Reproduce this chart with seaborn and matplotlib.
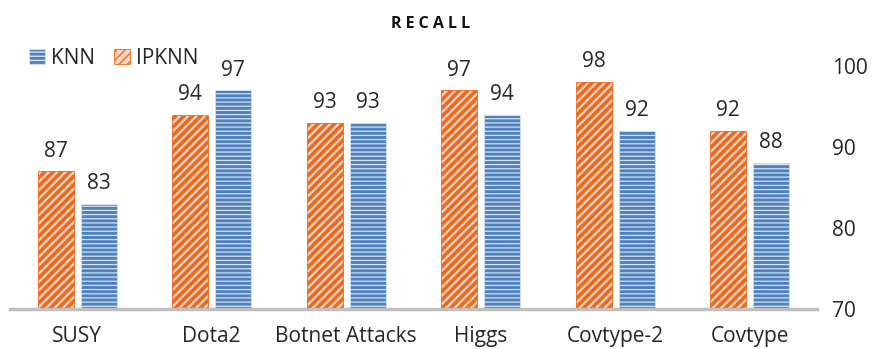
import matplotlib
matplotlib.use("Agg")
import matplotlib.pyplot as plt
import seaborn as sns
import pandas as pd
from matplotlib.patches import Patch

categories = ["SUSY", "Dota2", "Botnet Attacks", "Higgs", "Covtype-2", "Covtype"]
ipknn = [87, 94, 93, 97, 98, 92]
knn = [83, 97, 93, 94, 92, 88]
yticks = [70, 80, 90, 100]

sns.set_theme(style="white")
plt.rcParams["font.family"] = ["Open Sans", "DejaVu Sans"]

df = pd.DataFrame({
    "cat": categories * 2,
    "val": ipknn + knn,
    "model": ["IPKNN"] * len(categories) + ["KNN"] * len(categories),
})

fig = plt.figure(figsize=(8.77, 3.49), dpi=100)
ax = fig.add_axes([10 / 877, 40 / 349, 807 / 877, 243 / 349])

orange = "#EC6A1E"
blue = "#4F81BD"
styles = {
    "IPKNN": dict(facecolor="#F6D3C3", edgecolor=orange, hatch="////", hlw=2.6),
    "KNN": dict(facecolor=blue, edgecolor="#D5E1F0", hatch="----", hlw=0.9),
}

sns.barplot(data=df, x="cat", y="val", hue="model", hue_order=["IPKNN", "KNN"],
            ax=ax, width=0.64, gap=0.16, legend=False, errorbar=None)


def style_patch(p, st):
    p.set_facecolor(st["facecolor"])
    p.set_edgecolor(st["edgecolor"])
    p.set_hatch(st["hatch"])
    p.set_linewidth(0.6)
    if hasattr(p, "set_hatch_linewidth"):
        p.set_hatch_linewidth(st["hlw"])
    else:
        p._hatch_linewidth = st["hlw"]


for container, name in zip(ax.containers, ["IPKNN", "KNN"]):
    for bar in container:
        style_patch(bar, styles[name])
    ax.bar_label(container, fmt="%d", padding=7, fontsize=15)

ax.set_ylim(70, 100)
ax.set_xlim(-0.5, len(categories) - 0.5)
ax.set_yticks(yticks)
ax.yaxis.tick_right()
ax.tick_params(axis="y", length=0, labelsize=15, pad=11)
ax.tick_params(axis="x", length=0, labelsize=15, pad=12)
for lbl in ax.get_yticklabels():
    lbl.set_horizontalalignment("left")
ax.set_xlabel("")
ax.set_ylabel("")
for s in ["top", "left", "right"]:
    ax.spines[s].set_visible(False)
ax.spines["bottom"].set_color("#BFBFBF")
ax.spines["bottom"].set_linewidth(2.5)

fig.text(431 / 877, 1 - 24 / 349, "R E C A L L", ha="center", va="center",
         fontsize=11.5, fontweight="bold", color="#111111")

handles = []
for name in ["KNN", "IPKNN"]:
    h = Patch(label=name)
    style_patch(h, styles[name])
    handles.append(h)
fig.legend(handles=handles, loc="center left", bbox_to_anchor=(21 / 877, 1 - 58 / 349),
           ncol=2, frameon=False, fontsize=15, handlelength=0.75, handleheight=0.75,
           handletextpad=0.3, columnspacing=0.9, borderaxespad=0)

fig.savefig("out.png", dpi=100)
